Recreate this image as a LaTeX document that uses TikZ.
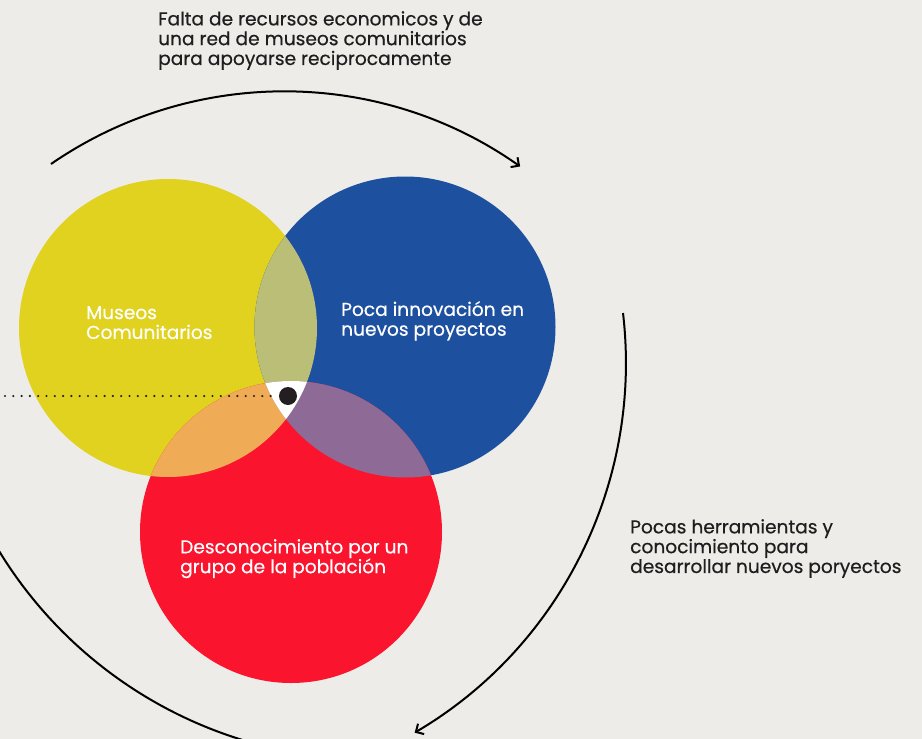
\documentclass[tikz,border=0pt]{standalone}
\usepackage{fontspec}
\setmainfont[FakeBold=0.5]{Poppins}
\usetikzlibrary{arrows.meta}
\definecolor{bg}{HTML}{EDECE8}
\definecolor{cyel}{HTML}{E0D21E}
\definecolor{cblu}{HTML}{1E50A0}
\definecolor{cred}{HTML}{FA142D}
\definecolor{cgrn}{HTML}{BABE76}
\definecolor{corg}{HTML}{EFAB55}
\definecolor{cpur}{HTML}{8E6B97}
\definecolor{ink}{HTML}{1E1E1E}
\definecolor{dotc}{HTML}{231F20}
\begin{document}
\begin{tikzpicture}[x=1pt,y=-1pt,
  lbl/.style={anchor=north west, inner sep=0pt, align=left, font=\fontsize{18.6}{19.8}\selectfont},
  cycarrow/.style={line width=2pt, draw=black, -{Straight Barb[length=6pt,width=12pt,line width=2pt]}},
  cycline/.style={line width=2pt, draw=black}]
\useasboundingbox (0,0) rectangle (922,739);
\fill[bg] (0,0) rectangle (922,739);
\clip (0,0) rectangle (922,739);
% circle centres
\coordinate (cy) at (168,328);
\coordinate (cb) at (405,327);
\coordinate (cr) at (291,532);
% base fills
\fill[cyel] (cy) circle[radius=149];
\fill[cblu] (cb) circle[radius=150.5];
\fill[cred] (cr) circle[radius=151];
% overlaps
\begin{scope}
  \clip (cy) circle[radius=149];
  \fill[cgrn] (cb) circle[radius=150.5];
  \fill[corg] (cr) circle[radius=151];
\end{scope}
\begin{scope}
  \clip (cb) circle[radius=150.5];
  \fill[cpur] (cr) circle[radius=151];
  \begin{scope}
    \clip (cy) circle[radius=149];
    \fill[white] (cr) circle[radius=151];
  \end{scope}
\end{scope}
% centre dot and dotted line
\node[circle, fill=dotc, minimum size=18pt, inner sep=0pt] (dot) at (288,396) {};
\coordinate (dl) at (5,396);
\draw[dotc, line width=2.4pt, line cap=round, dash pattern=on 0pt off 8.3pt] (dl) -- (dot.west);
% cycle arcs
\coordinate (a1) at (51,164);
\draw[cycarrow] (a1) arc[start angle=-124.6, end angle=-54.8, radius=410];
\coordinate (a2) at (623,313);
\draw[cycarrow] (a2) arc[start angle=-6.7, end angle=59.5, radius=429];
\coordinate (a3) at (-24,508);
\draw[cycline] (a3) arc[start angle=155, end angle=95, radius=435];
% texts
\node[lbl, text=ink] (ttop) at (158,11) {Falta de recursos economicos y de\\una red de museos comunitarios\\para apoyarse reciprocamente};
\node[lbl, text=white] (tmus) at (86,306) {Museos\\Comunitarios};
\node[lbl, text=white] (tpoc) at (341,301) {Poca innovación en\\nuevos proyectos};
\node[lbl, text=white] (tdes) at (180,539) {Desconocimiento por un\\grupo de la población};
\node[lbl, text=ink] (tright) at (630,519) {Pocas herramientas y\\conocimiento para\\desarrollar nuevos poryectos};
\end{tikzpicture}
\end{document}
